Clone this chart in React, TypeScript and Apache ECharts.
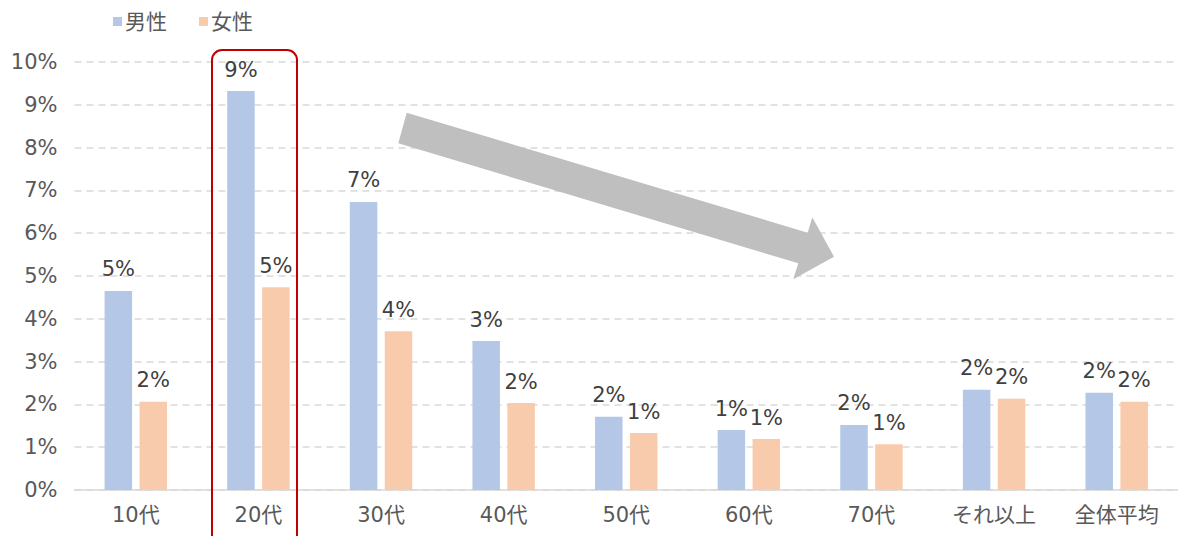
import React, { useEffect, useRef } from "react";
import * as echarts from "echarts";

const categories = ["10代", "20代", "30代", "40代", "50代", "60代", "70代", "それ以上", "全体平均"];
const maleValues = [4.65, 9.32, 6.73, 3.48, 1.71, 1.4, 1.52, 2.34, 2.27];
const femaleValues = [2.06, 4.74, 3.71, 2.03, 1.33, 1.19, 1.07, 2.13, 2.06];
const seriesNames = ["男性", "女性"];

const FONT = "'DejaVu Sans', 'Noto Sans CJK JP', sans-serif";

export default function App() {
  const ref = useRef<HTMLDivElement>(null);
  useEffect(() => {
    if (!ref.current) return;
    const chart = echarts.init(ref.current, null, { renderer: "svg" });
    const label = {
      show: true,
      position: "top",
      distance: 11,
      color: "#404040",
      fontSize: 21,
      fontFamily: FONT,
      formatter: (p: any) => Math.round(p.value) + "%",
    };
    chart.setOption({
      animation: false,
      textStyle: { fontFamily: FONT },
      legend: {
        data: seriesNames,
        left: 108,
        top: 6,
        itemWidth: 9,
        itemHeight: 9,
        itemGap: 32,
        icon: "rect",
        textStyle: { color: "#595959", fontSize: 21, fontFamily: FONT, padding: [0, 0, 0, -2] },
      },
      grid: { left: 74.5, width: 1106.5, top: 62, bottom: 46, containLabel: false },
      xAxis: {
        type: "category",
        data: categories,
        axisLine: { lineStyle: { color: "#D9D9D9", width: 1.5 } },
        axisTick: { show: false },
        axisLabel: { color: "#595959", fontSize: 21, margin: 14, fontFamily: FONT },
      },
      yAxis: {
        type: "value",
        min: 0,
        max: 10,
        interval: 1,
        axisLine: { show: false },
        axisTick: { show: false },
        axisLabel: { color: "#595959", fontSize: 21, margin: 17, formatter: "{value}%", fontFamily: FONT },
        splitLine: { lineStyle: { color: "#D9D9D9", type: [7, 5], width: 1.5 } },
      },
      series: [
        {
          name: seriesNames[0],
          type: "bar",
          data: maleValues,
          barWidth: 27.5,
          barGap: "27%",
          itemStyle: { color: "#B4C7E7" },
          label,
        },
        {
          name: seriesNames[1],
          type: "bar",
          data: femaleValues,
          barWidth: 27.5,
          itemStyle: { color: "#F8CBAD" },
          label,
        },
      ],
      graphic: [
        {
          type: "polygon",
          shape: {
            points: [
              [406.7, 112.7],
              [807.7, 232.7],
              [812.3, 217.3],
              [834, 256.7],
              [793.3, 279.3],
              [798.3, 263.3],
              [398.3, 143.3],
            ],
          },
          style: { fill: "#BFBFBF" },
          z: 10,
        },
        {
          type: "rect",
          shape: { x: 212, y: 50, width: 85, height: 500, r: 10 },
          style: { fill: "none", stroke: "#C00000", lineWidth: 2 },
          z: 10,
        },
      ],
    });
    return () => chart.dispose();
  }, []);
  return (
    <div
      ref={ref}
      style={{ position: "absolute", left: 0, top: 0, width: 1178, height: 536 }}
    />
  );
}
